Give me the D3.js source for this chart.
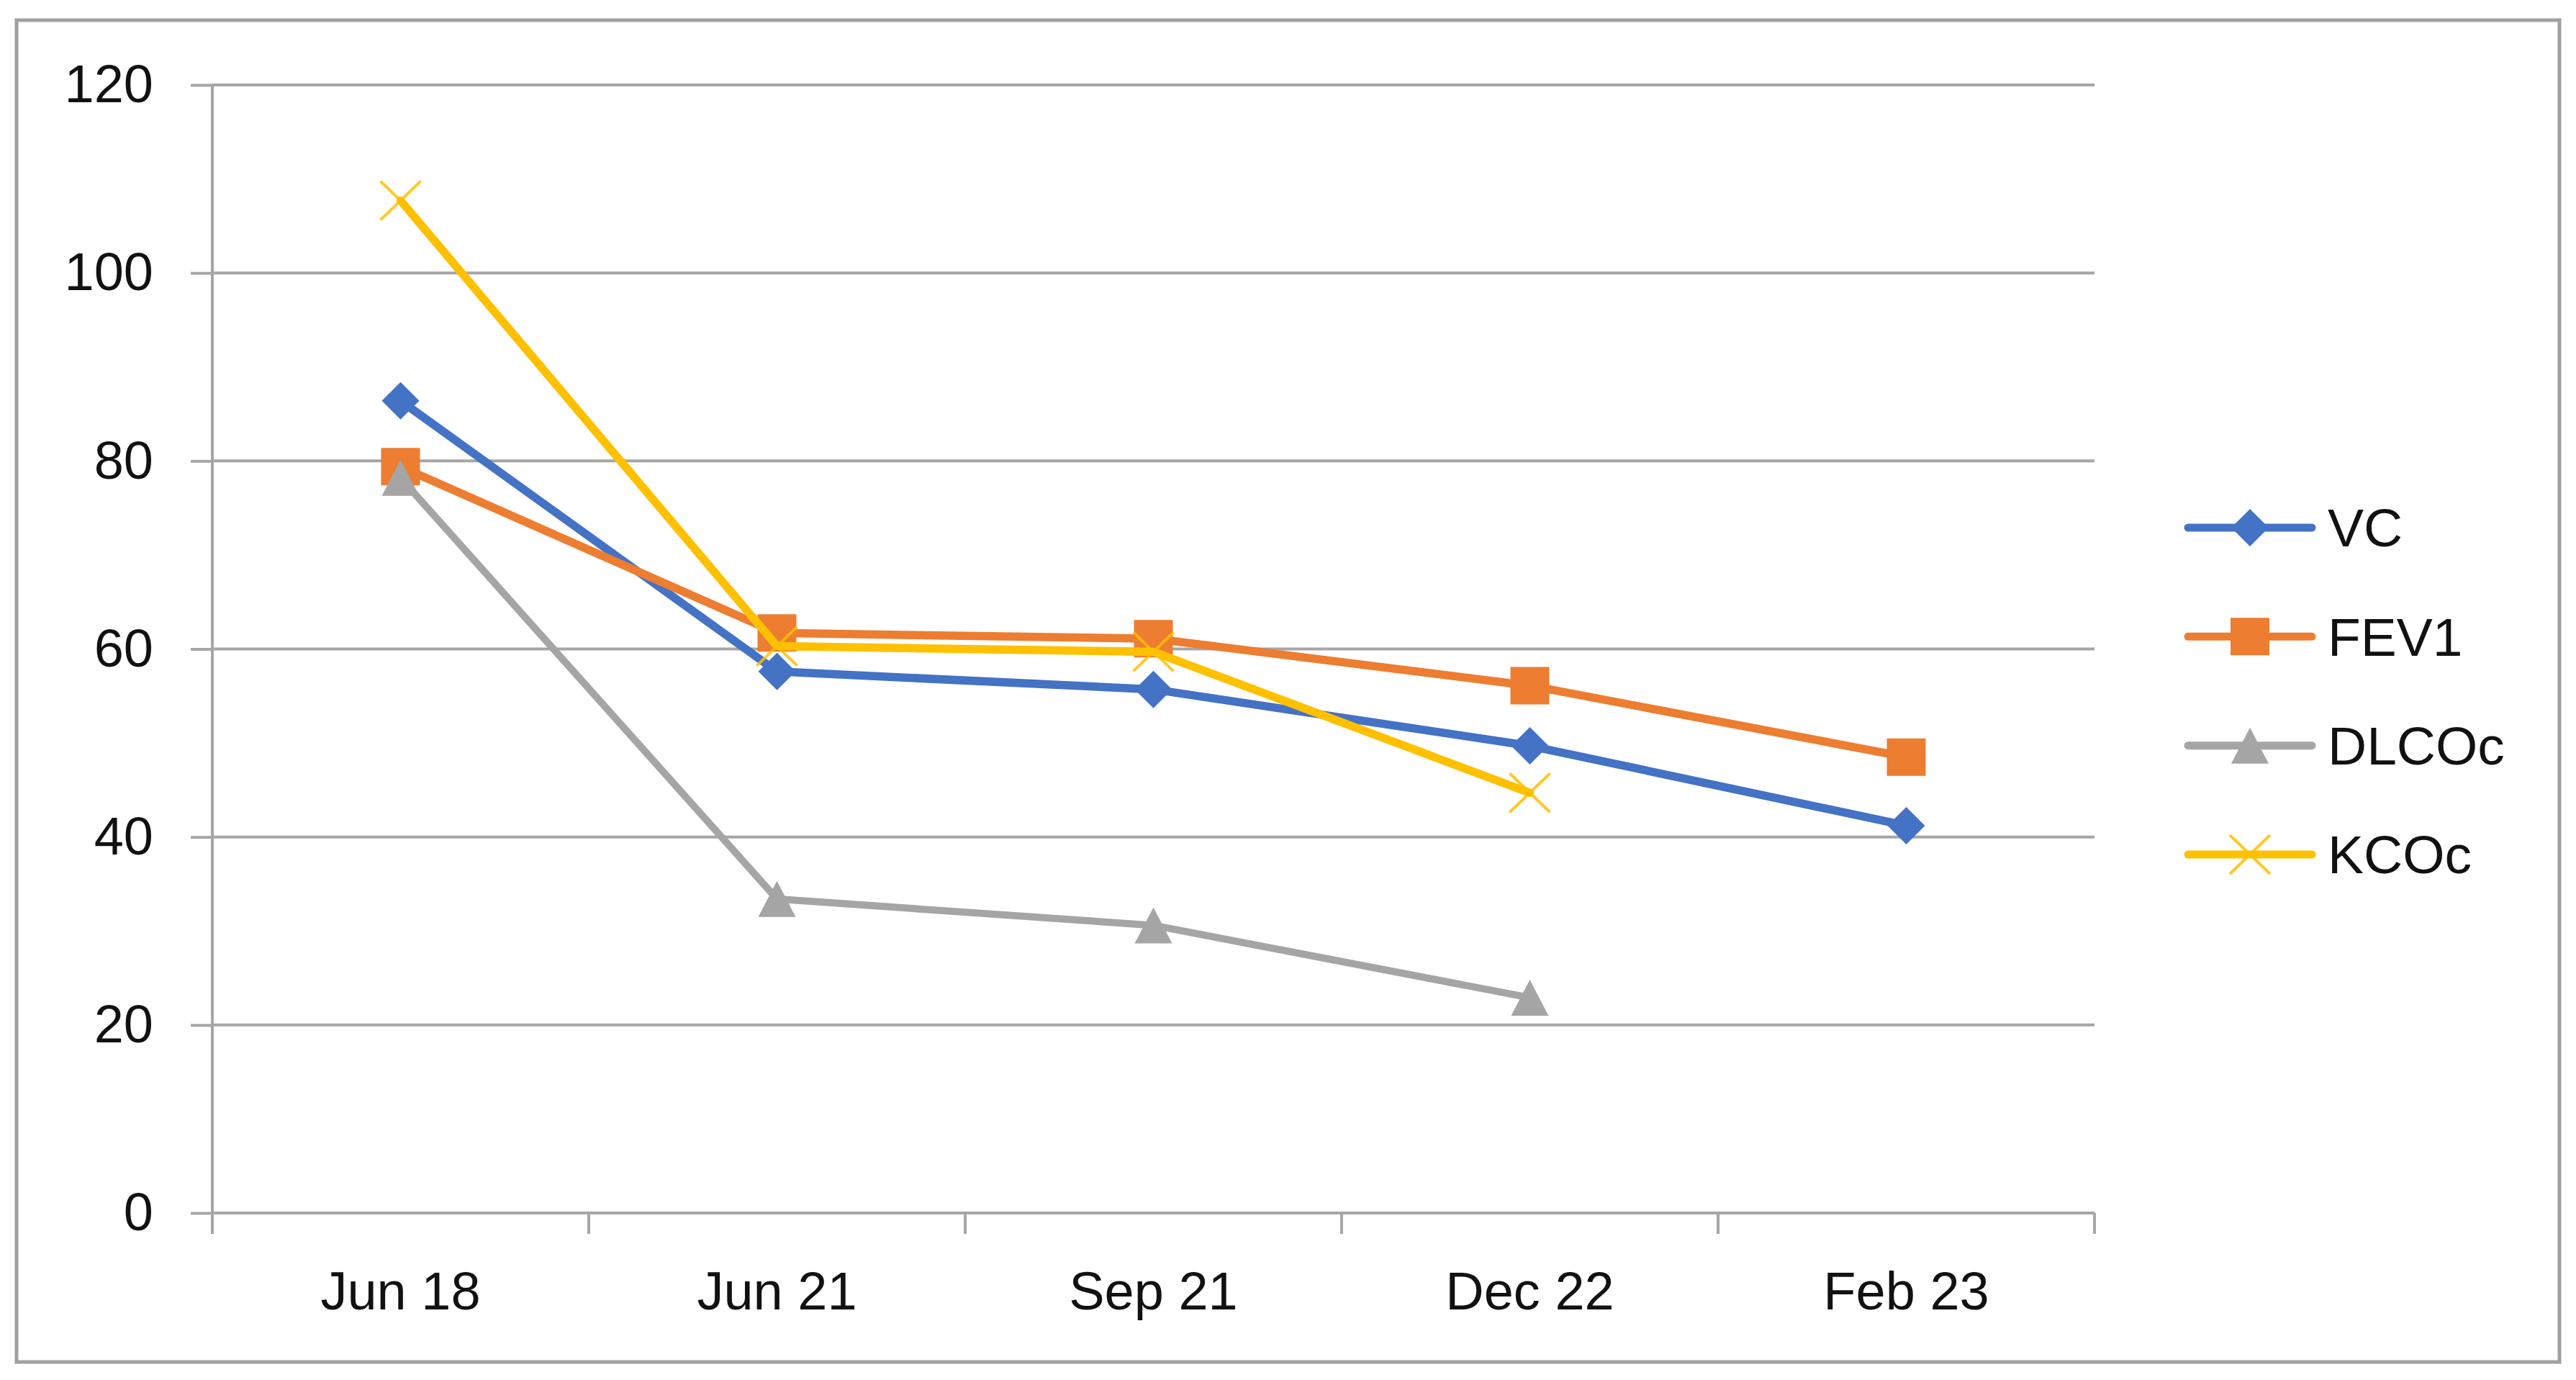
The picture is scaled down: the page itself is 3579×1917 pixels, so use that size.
<!DOCTYPE html>
<html>
<head>
<meta charset="utf-8">
<script src="https://cdn.jsdelivr.net/npm/d3@7"></script>
<style>
  body { margin: 0; background: #fff; }
  text { font-family: "Liberation Sans", Arial, sans-serif; fill: #111; }
</style>
</head>
<body>
<svg id="chart"></svg>
<script>
// chart data
var categories = ["Jun 18", "Jun 21", "Sep 21", "Dec 22", "Feb 23"];
var vcValues = [86.4, 57.6, 55.7, 49.7, 41.2];
var fev1Values = [79.4, 61.7, 61.1, 56.1, 48.5];
var dlcocValues = [78.2, 33.4, 30.6, 22.9, null];
var kcocValues = [107.7, 60.3, 59.7, 44.7, null];
var seriesNames = ["VC", "FEV1", "DLCOc", "KCOc"];
var yTicks = [0, 20, 40, 60, 80, 100, 120];

var screen = {width: 3579, height: 1917};
var plot = {left: 295, right: 2910, top: 118, bottom: 1685};

var series = [
  {name: seriesNames[0], values: vcValues, color: "#4472c4", marker: "diamond", width: 11.5},
  {name: seriesNames[1], values: fev1Values, color: "#ed7d31", marker: "square", width: 11.5},
  {name: seriesNames[2], values: dlcocValues, color: "#a5a5a5", marker: "triangle", width: 10},
  {name: seriesNames[3], values: kcocValues, color: "#ffc000", marker: "x", width: 11.5}
];

var svg = d3.select("#chart")
            .attr("width", screen.width)
            .attr("height", screen.height);

// outer frame
svg.append("rect")
   .attr("x", 23).attr("y", 28)
   .attr("width", 3556 - 23).attr("height", 1892 - 28)
   .attr("fill", "#fff")
   .attr("stroke", "#a0a0a0")
   .attr("stroke-width", 5);

var x = d3.scaleBand().domain(categories).range([plot.left, plot.right]);
var y = d3.scaleLinear().domain([0, 120]).range([plot.bottom, plot.top]);

// gridlines
svg.append("g")
   .selectAll("line")
   .data(yTicks)
   .enter()
   .append("line")
   .attr("x1", plot.left)
   .attr("x2", plot.right)
   .attr("y1", function(d){ return y(d); })
   .attr("y2", function(d){ return y(d); })
   .attr("stroke", "#a6a6a6")
   .attr("stroke-width", 4);

// y axis
var yAxis = svg.append("g")
   .attr("transform", "translate(" + plot.left + ",0)")
   .call(d3.axisLeft(y).tickValues(yTicks).tickSize(30).tickPadding(52));
yAxis.select(".domain").attr("stroke", "#a6a6a6").attr("stroke-width", 4)
     .attr("d", "M0," + (plot.bottom + 29) + "V" + plot.top);
yAxis.selectAll(".tick line").attr("stroke", "#a6a6a6").attr("stroke-width", 4);
yAxis.selectAll(".tick text")
     .style("font-size", "74px")
     .style("font-family", "'Liberation Sans', Arial, sans-serif")
     .attr("fill", "#111");

// x axis labels (centred in bands) and boundary ticks
var xAxis = svg.append("g")
   .attr("transform", "translate(0," + plot.bottom + ")")
   .call(d3.axisBottom(x).tickSize(0));
xAxis.select(".domain").remove();
xAxis.selectAll(".tick text")
     .attr("y", 134).attr("dy", 0)
     .style("font-size", "74px")
     .style("font-family", "'Liberation Sans', Arial, sans-serif")
     .attr("fill", "#111");

var bounds = categories.map(function(c){ return x(c); }).concat([x(categories[categories.length - 1]) + x.bandwidth()]);
svg.append("g")
   .selectAll("line")
   .data(bounds)
   .enter()
   .append("line")
   .attr("x1", function(d){ return d; })
   .attr("x2", function(d){ return d; })
   .attr("y1", plot.bottom)
   .attr("y2", plot.bottom + 29)
   .attr("stroke", "#a6a6a6")
   .attr("stroke-width", 4);

// marker shapes, relative to the point
function markerPath(type) {
  if (type == "diamond") return "M0,-26L26,0L0,26L-26,0Z";
  if (type == "square") return "M-27,-26H27V26H-27Z";
  if (type == "triangle") return "M0,-25L26,25H-26Z";
  return "M-28,-27L28,27M-28,27L28,-27";
}

function drawMarker(g, type, color) {
  var p = g.append("path").attr("d", markerPath(type));
  if (type == "x") {
    p.attr("fill", "none").attr("stroke", color).attr("stroke-width", 4).attr("stroke-opacity", 0.85);
  } else {
    p.attr("fill", color).attr("stroke", "none");
  }
}

var lineGen = d3.line()
   .defined(function(d){ return d.v != null; })
   .x(function(d){ return x(d.c) + x.bandwidth() / 2; })
   .y(function(d){ return y(d.v); });

series.forEach(function(s) {
  var pts = categories.map(function(c, i){ return {c: c, v: s.values[i]}; });
  var g = svg.append("g").attr("class", "series");
  g.append("path")
   .attr("d", lineGen(pts))
   .attr("fill", "none")
   .attr("stroke", s.color)
   .attr("stroke-width", s.width)
   .attr("stroke-linejoin", "round")
   .attr("stroke-linecap", "round");
  pts.filter(function(d){ return d.v != null; }).forEach(function(d) {
    var m = g.append("g")
             .attr("transform", "translate(" + (x(d.c) + x.bandwidth() / 2) + "," + y(d.v) + ")");
    drawMarker(m, s.marker, s.color);
  });
});

// legend
var legendY = d3.scalePoint().domain(seriesNames).range([733, 1187]);
series.forEach(function(s) {
  var g = svg.append("g").attr("transform", "translate(0," + legendY(s.name) + ")");
  g.append("line")
   .attr("x1", 3040).attr("x2", 3212)
   .attr("stroke", s.color)
   .attr("stroke-width", 11)
   .attr("stroke-linecap", "round");
  var m = g.append("g").attr("transform", "translate(3126,0)");
  drawMarker(m, s.marker, s.color);
  g.append("text")
   .attr("x", 3234)
   .attr("dy", "0.35em")
   .style("font-size", "75px")
   .text(s.name);
});
</script>
</body>
</html>
